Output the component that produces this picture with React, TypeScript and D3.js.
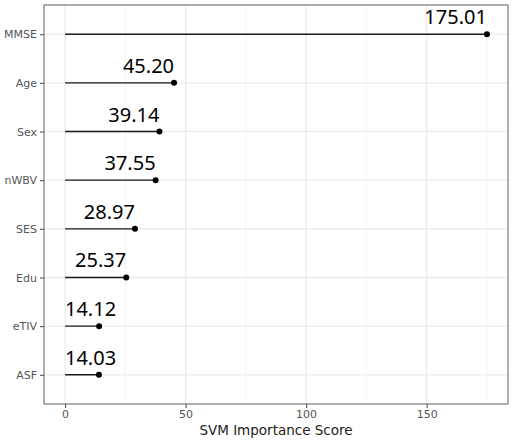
import React, { useEffect, useRef } from "react";
import * as d3 from "d3";

const features = ["MMSE", "Age", "Sex", "nWBV", "SES", "Edu", "eTIV", "ASF"];
const scores = [175.01, 45.2, 39.14, 37.55, 28.97, 25.37, 14.12, 14.03];
const xTicks = [0, 50, 100, 150];
const xMinor = [25, 75, 125, 175];

const W = 512;
const H = 442;

const Chart = () => {
  const svgRef = useRef<SVGSVGElement>(null);

  useEffect(() => {
    const svg = d3.select(svgRef.current);
    svg.selectAll("*").remove();

    const panel = { left: 44, right: 508, top: 5, bottom: 404 };
    const maxV = d3.max(scores) as number;
    const pad = maxV * 0.05;

    const x = d3
      .scaleLinear()
      .domain([-pad, maxV + pad])
      .range([panel.left, panel.right]);

    const y = d3
      .scalePoint<string>()
      .domain(features)
      .range([panel.top, panel.bottom])
      .padding(0.6);

    svg.append("rect").attr("width", W).attr("height", H).attr("fill", "#fff");

    // grid
    const grid = svg.append("g");
    grid
      .selectAll("line.minor")
      .data(xMinor)
      .enter()
      .append("line")
      .attr("x1", (d) => x(d))
      .attr("x2", (d) => x(d))
      .attr("y1", panel.top)
      .attr("y2", panel.bottom)
      .attr("stroke", "#f2f2f2")
      .attr("stroke-width", 0.8);
    grid
      .selectAll("line.vmaj")
      .data(xTicks)
      .enter()
      .append("line")
      .attr("x1", (d) => x(d))
      .attr("x2", (d) => x(d))
      .attr("y1", panel.top)
      .attr("y2", panel.bottom)
      .attr("stroke", "#ebebeb")
      .attr("stroke-width", 1.3);
    grid
      .selectAll("line.hmaj")
      .data(features)
      .enter()
      .append("line")
      .attr("x1", panel.left)
      .attr("x2", panel.right)
      .attr("y1", (d) => y(d) as number)
      .attr("y2", (d) => y(d) as number)
      .attr("stroke", "#ebebeb")
      .attr("stroke-width", 1.3);

    // lollipops
    const rows = features.map((f, i) => ({ f, v: scores[i] }));
    svg
      .selectAll("line.stem")
      .data(rows)
      .enter()
      .append("line")
      .attr("x1", x(0))
      .attr("x2", (d) => x(d.v))
      .attr("y1", (d) => y(d.f) as number)
      .attr("y2", (d) => y(d.f) as number)
      .attr("stroke", "#1a1a1a")
      .attr("stroke-width", 1.4);
    svg
      .selectAll("circle")
      .data(rows)
      .enter()
      .append("circle")
      .attr("cx", (d) => x(d.v))
      .attr("cy", (d) => y(d.f) as number)
      .attr("r", 3)
      .attr("fill", "#000");

    // value labels
    svg
      .selectAll("text.val")
      .data(rows)
      .enter()
      .append("text")
      .attr("x", (d) => Math.max(x(d.v), x(0) + 51))
      .attr("y", (d) => (y(d.f) as number) - 10)
      .attr("text-anchor", "end")
      .attr("font-family", "Noto Sans, sans-serif")
      .attr("font-size", 20)
      .attr("fill", "#000")
      .text((d) => d.v.toFixed(2));

    // border
    svg
      .append("rect")
      .attr("x", panel.left)
      .attr("y", panel.top)
      .attr("width", panel.right - panel.left)
      .attr("height", panel.bottom - panel.top)
      .attr("fill", "none")
      .attr("stroke", "#7a7a7a")
      .attr("stroke-width", 1.2);

    // axes
    const xAxis = svg
      .append("g")
      .attr("transform", `translate(0,${panel.bottom})`)
      .call(d3.axisBottom(x).tickValues(xTicks).tickSize(4).tickPadding(2));
    const yAxis = svg
      .append("g")
      .attr("transform", `translate(${panel.left},0)`)
      .call(d3.axisLeft(y).tickSize(4).tickPadding(3));

    [xAxis, yAxis].forEach((a) => {
      a.select(".domain").remove();
      a.selectAll("line").attr("stroke", "#555").attr("stroke-width", 1.1);
      a.selectAll("text")
        .attr("fill", "#555")
        .attr("font-size", 11)
        .attr("font-family", "DejaVu Sans, sans-serif");
    });

    svg
      .append("text")
      .attr("x", (panel.left + panel.right) / 2)
      .attr("y", 435)
      .attr("text-anchor", "middle")
      .attr("font-family", "DejaVu Sans, sans-serif")
      .attr("font-size", 13.5)
      .attr("fill", "#222")
      .text("SVM Importance Score");
  }, []);

  return (
    <svg
      ref={svgRef}
      width={W}
      height={H}
      style={{ position: "absolute", left: 0, top: 0 }}
    ></svg>
  );
};

export default function App() {
  return <Chart />;
}
